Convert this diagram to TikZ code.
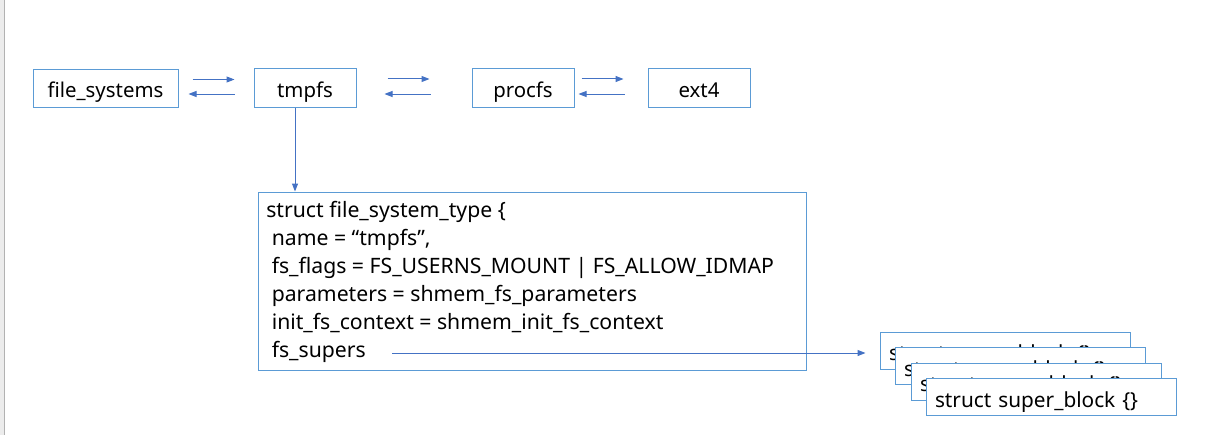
\documentclass[tikz,border=0pt]{standalone}
\usepackage{fontspec}
\setmainfont{Noto Sans}
\usetikzlibrary{arrows.meta}
\definecolor{boxc}{RGB}{91,155,213}
\definecolor{arrc}{RGB}{68,114,196}
\definecolor{edgeg}{RGB}{236,236,236}
\begin{document}
\begin{tikzpicture}[x=0.75pt,y=-0.75pt,
  box/.style={draw=boxc,line width=0.75pt,fill=white,inner sep=0pt,
    font=\fontsize{15.3}{18}\selectfont,text height=15.75pt,text depth=1.5pt},
  conn/.style={draw=arrc,line width=0.75pt,-{Triangle[length=6pt,width=4.5pt]}},
  sbbox/.style={box,font=\fontsize{15.6}{18}\selectfont,text height=16.5pt,text depth=1.5pt,
    minimum width=187.5pt,minimum height=27.75pt,text width=174pt,align=left}
]
\useasboundingbox (0,0) rectangle (1216,435);
\fill[edgeg] (0,0) rectangle (4,435);
\draw[gray!60,line width=0.9pt] (4.5,0) -- (4.5,435);

\node[box,minimum width=108.75pt,minimum height=27.75pt] (fs) at (105.5,88.5) {file\_systems};
\node[box,minimum width=76.5pt,minimum height=28.5pt] (tmpfs) at (305,88) {tmpfs};
\node[box,minimum width=76.5pt,minimum height=28.5pt] (procfs) at (523,88) {procfs};
\node[box,minimum width=76.5pt,minimum height=28.5pt] (ext4) at (699,88) {ext4};

% arrows between boxes
\draw[conn,shorten <=10.5pt,shorten >=14.25pt] ([yshift=6.75pt]fs.east) -- ([yshift=6.75pt]fs.east -| tmpfs.west);
\draw[conn,shorten <=14.25pt,shorten >=7.5pt] ([yshift=-4.5pt]tmpfs.west) -- ([yshift=-4.5pt]tmpfs.west -| fs.east);
\draw[conn,shorten <=23.25pt,shorten >=31.5pt] ([yshift=6.75pt]tmpfs.east) -- ([yshift=6.75pt]tmpfs.east -| procfs.west);
\draw[conn,shorten <=30.75pt,shorten >=21pt] ([yshift=-4.5pt]procfs.west) -- ([yshift=-4.5pt]procfs.west -| tmpfs.east);
\draw[conn,shorten <=5.25pt,shorten >=18pt] ([yshift=6.75pt]procfs.east) -- ([yshift=6.75pt]procfs.east -| ext4.west);
\draw[conn,shorten <=17.25pt,shorten >=3pt] ([yshift=-4.5pt]ext4.west) -- ([yshift=-4.5pt]ext4.west -| procfs.east);

% struct box
\node[draw=boxc,line width=0.75pt,inner sep=0pt,minimum width=411pt,minimum height=133.5pt] (fst) at (532,281) {};
\draw[conn] (tmpfs.south -| 295,0) -- (fst.north -| 295,0);
\node[anchor=north west,inner sep=0pt,align=left,font=\fontsize{15.9}{21}\selectfont] (code) at (266,201)
{struct file\_system\_type \{\\
\ name = “tmpfs”,\\
\ fs\_flags = FS\_USERNS\_MOUNT | FS\_ALLOW\_IDMAP\\
\ parameters = shmem\_fs\_parameters\\
\ init\_fs\_context = shmem\_init\_fs\_context\\
\ fs\_supers};

% super blocks
\node[sbbox] (sb1) at (1005,350.5) {struct super\_block \{\}};
\node[sbbox] (sb2) at (1020,366) {struct super\_block \{\}};
\node[sbbox] (sb3) at (1036,381.5) {struct super\_block \{\}};
\node[sbbox] (sb4) at (1051,397) {struct super\_block \{\}};

\coordinate (fsS) at (392,353);
\draw[conn,shorten >=10.5pt] (fsS) -- (fsS -| sb1.west);
\end{tikzpicture}
\end{document}
